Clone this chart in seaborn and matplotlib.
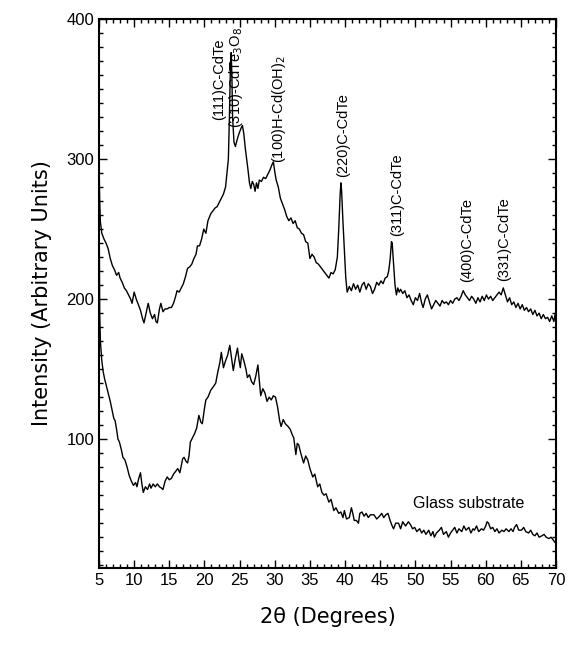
import numpy as np
import pandas as pd
import matplotlib
matplotlib.use("Agg")
import matplotlib.pyplot as plt
from matplotlib.ticker import MultipleLocator
import seaborn as sns

# ---------------- data ----------------
film_x = [5.0, 5.1, 5.2, 5.4, 5.7, 6.0, 6.3, 6.6, 6.9, 7.2, 7.5, 7.8, 8.0, 8.3, 8.6, 8.9, 9.2, 9.5, 9.7,
          10.0, 10.3, 10.6, 10.9, 11.2, 11.4, 11.7, 12.0, 12.3, 12.6, 12.9, 13.1, 13.3, 13.6, 13.8, 14.1, 14.4,
          14.7, 15.0, 15.3, 15.6, 15.9, 16.1, 16.4, 16.7, 17.0, 17.3, 17.6, 17.9, 18.2, 18.5, 18.8, 19.0, 19.3,
          19.6, 19.9, 20.2, 20.5, 20.9, 21.2, 21.5, 21.8, 22.1, 22.4, 22.7, 23.0, 23.2, 23.4, 23.55, 23.7, 23.8,
          23.9, 24.0, 24.2, 24.4, 24.6, 24.9, 25.2, 25.4, 25.6, 25.8, 26.0, 26.2, 26.4, 26.6, 26.8, 27.0, 27.2,
          27.4, 27.6, 27.8, 28.1, 28.4, 28.7, 29.0, 29.3, 29.6, 29.8, 30.0, 30.2, 30.5, 30.8, 31.1, 31.4, 31.7,
          32.0, 32.3, 32.6, 32.9, 33.2, 33.5, 33.8, 34.1, 34.4, 34.7, 35.0, 35.3, 35.6, 35.9, 36.2, 36.5, 36.8,
          37.1, 37.4, 37.7, 38.0, 38.3, 38.6, 38.9, 39.1, 39.3, 39.4, 39.5, 39.7, 39.9, 40.1, 40.3, 40.6, 40.9,
          41.2, 41.5, 41.8, 42.1, 42.4, 42.7, 43.0, 43.3, 43.6, 43.9, 44.2, 44.5, 44.8, 45.1, 45.4, 45.7, 46.0,
          46.2, 46.4, 46.6, 46.7, 46.9, 47.1, 47.3, 47.5, 47.7, 47.9, 48.2, 48.5, 48.8, 49.1, 49.4, 49.7, 50.0,
          50.3, 50.6, 50.9, 51.1, 51.4, 51.7, 52.0, 52.3, 52.6, 52.9, 53.2, 53.5, 53.8, 54.1, 54.4, 54.7, 55.0,
          55.3, 55.6, 55.9, 56.2, 56.5, 56.8, 57.1, 57.4, 57.7, 58.0, 58.3, 58.6, 58.9, 59.2, 59.5, 59.8, 60.1,
          60.4, 60.7, 61.0, 61.3, 61.6, 61.9, 62.2, 62.5, 62.8, 63.1, 63.4, 63.7, 64.0, 64.3, 64.6, 64.9, 65.2,
          65.5, 65.8, 66.1, 66.4, 66.7, 67.0, 67.3, 67.6, 67.9, 68.2, 68.5, 68.8, 69.1, 69.4, 69.7, 69.9, 70.0]
film_y = [300, 270, 255, 247, 243, 240, 236, 229, 224, 221, 217, 219, 215, 212, 208, 206, 203, 200, 197,
          205, 200, 196, 192, 186, 183, 190, 197, 190, 186, 189, 184, 183, 193, 197, 191, 193,
          193, 194, 194, 197, 202, 206, 205, 208, 211, 216, 222, 223, 225, 229, 232, 238, 238,
          243, 250, 247, 256, 261, 263, 265, 266, 269, 272, 275, 280, 290, 300, 330, 368, 376,
          360, 330, 312, 309, 313, 318, 322, 324, 318, 308, 300, 292, 283, 279, 284, 282, 277,
          283, 279, 285, 284, 287, 286, 289, 292, 296, 298, 291, 285, 280, 272, 268, 264, 259,
          256, 258, 254, 256, 251, 250, 247, 246, 241, 240, 229, 232, 230, 226, 225, 223, 221,
          219, 217, 215, 219, 218, 221, 230, 250, 275, 283, 278, 255, 235, 215, 205, 209, 206,
          211, 207, 210, 205, 210, 212, 207, 211, 209, 204, 207, 212, 210, 213, 211, 215, 216,
          220, 228, 241, 240, 225, 210, 203, 208, 205, 207, 204, 206, 201, 203, 199, 196, 201,
          199, 204, 197, 194, 200, 203, 198, 193, 196, 199, 197, 195, 199, 197, 198, 196, 199,
          197, 200, 201, 199, 202, 206, 203, 201, 199, 202, 200, 197, 201, 198, 202, 199, 203,
          200, 202, 199, 201, 203, 205, 203, 208, 203, 198, 201, 196, 198, 194, 197, 193, 196,
          192, 194, 191, 193, 189, 192, 188, 190, 186, 189, 186, 187, 184, 188, 184, 190, 185]

glass_x = [5.0, 5.05, 5.1, 5.2, 5.4, 5.6, 5.8, 6.1, 6.4, 6.6, 6.9, 7.1, 7.3, 7.5, 7.7, 7.9, 8.2, 8.4, 8.7,
           9.0, 9.3, 9.6, 9.9, 10.2, 10.4, 10.6, 10.9, 11.1, 11.3, 11.6, 11.9, 12.2, 12.4, 12.7, 13.0, 13.3,
           13.6, 13.9, 14.1, 14.4, 14.7, 15.0, 15.3, 15.6, 15.9, 16.2, 16.5, 16.9, 17.1, 17.4, 17.6, 17.8,
           18.0, 18.3, 18.6, 18.9, 19.2, 19.5, 19.7, 20.0, 20.2, 20.5, 20.9, 21.2, 21.6, 21.9, 22.2, 22.4,
           22.7, 23.0, 23.3, 23.6, 23.8, 24.1, 24.4, 24.7, 24.9, 25.1, 25.3, 25.6, 25.9, 26.1, 26.4, 26.7,
           27.0, 27.3, 27.6, 27.8, 28.0, 28.3, 28.6, 28.9, 29.2, 29.5, 29.8, 30.1, 30.4, 30.7, 30.9, 31.2,
           31.5, 31.9, 32.2, 32.5, 32.7, 33.0, 33.2, 33.4, 33.7, 34.1, 34.4, 34.7, 35.0, 35.4, 35.7, 36.1,
           36.4, 36.7, 37.0, 37.3, 37.7, 38.0, 38.4, 38.7, 39.1, 39.4, 39.7, 39.9, 40.2, 40.6, 40.9, 41.1,
           41.3, 41.6, 41.9, 42.1, 42.4, 42.7, 43.0, 43.3, 43.6, 44.1, 44.5, 44.9, 45.2, 45.5, 45.8, 46.1,
           46.4, 46.7, 46.9, 47.2, 47.6, 47.9, 48.2, 48.6, 49.0, 49.3, 49.6, 49.9, 50.2, 50.6, 50.9, 51.2,
           51.5, 51.9, 52.2, 52.5, 52.7, 53.0, 53.4, 53.7, 54.0, 54.4, 54.7, 55.0, 55.3, 55.6, 55.9, 56.2,
           56.6, 56.9, 57.2, 57.6, 57.9, 58.2, 58.4, 58.7, 59.0, 59.4, 59.7, 60.0, 60.2, 60.4, 60.7, 61.0,
           61.3, 61.6, 61.9, 62.3, 62.6, 62.9, 63.3, 63.6, 63.9, 64.1, 64.4, 64.7, 65.1, 65.4, 65.7, 66.1,
           66.4, 66.7, 67.0, 67.3, 67.6, 68.0, 68.3, 68.6, 69.0, 69.3, 69.6, 69.9, 70.0]
glass_y = [280, 230, 190, 170, 156, 148, 143, 137, 131, 127, 120, 115, 113, 107, 100, 98, 92, 87, 85,
           80, 74, 70, 67, 69, 66, 71, 76, 68, 62, 66, 64, 68, 65, 68, 66, 68,
           66, 65, 64, 70, 73, 71, 72, 75, 77, 79, 76, 86, 87, 84, 83, 88,
           98, 101, 104, 108, 117, 112, 111, 122, 128, 130, 135, 137, 140, 148, 155, 162,
           151, 156, 160, 167, 160, 149, 158, 165, 157, 151, 161, 156, 150, 144, 146, 141,
           139, 145, 153, 142, 131, 136, 133, 127, 130, 128, 131, 130, 123, 113, 109, 114,
           111, 109, 107, 103, 101, 89, 97, 96, 90, 83, 88, 85, 79, 73, 75, 66,
           68, 62, 60, 61, 55, 57, 49, 51, 47, 48, 44, 49, 43, 44, 51, 47,
           42, 42, 40, 47, 48, 45, 47, 44, 46, 46, 43, 45, 47, 44, 46, 47,
           42, 38, 36, 40, 40, 36, 41, 38, 41, 39, 36, 37, 34, 36, 33, 35,
           32, 35, 31, 34, 30, 33, 35, 37, 32, 34, 30, 33, 35, 37, 33, 36,
           34, 38, 35, 37, 33, 36, 35, 38, 34, 36, 35, 38, 41, 40, 36, 37,
           34, 36, 33, 35, 34, 36, 34, 36, 34, 37, 39, 35, 35, 37, 34, 33,
           35, 32, 31, 33, 30, 31, 32, 30, 29, 30, 28, 26, 26]

peak_labels = ["(111)C-CdTe", "(310)-CdTe$_3$O$_8$", "(100)H-Cd(OH)$_2$", "(220)C-CdTe",
               "(311)C-CdTe", "(400)C-CdTe", "(331)C-CdTe"]
peak_label_x = [22.1, 24.5, 30.6, 39.7, 47.4, 57.3, 62.6]
peak_label_y = [328, 322, 297, 287, 245, 212, 213]

glass_label = "Glass substrate"
xticks = [5, 10, 15, 20, 25, 30, 35, 40, 45, 50, 55, 60, 65, 70]
yticks = [100, 200, 300, 400]

# ---------------- figure ----------------
sns.set_theme(style="ticks")
plt.rcParams["font.family"] = ["Liberation Sans", "DejaVu Sans"]

fig = plt.figure(figsize=(5.67, 6.51), dpi=100)
ax = fig.add_axes([0.1746, 0.1275, 0.806, 0.8433])

film = pd.DataFrame({"x": film_x, "y": film_y})
glass = pd.DataFrame({"x": glass_x, "y": glass_y})
sns.lineplot(data=film, x="x", y="y", ax=ax, color="black", lw=1.0, sort=False, estimator=None)
sns.lineplot(data=glass, x="x", y="y", ax=ax, color="black", lw=1.0, sort=False, estimator=None)

for lab, lx, ly in zip(peak_labels, peak_label_x, peak_label_y):
    ax.text(lx, ly, lab, rotation=90, ha="center", va="bottom", fontsize=10.5, color="black")
ax.text(57.6, 54, glass_label, ha="center", va="center", fontsize=11.5, color="black")

ax.set_xlim(5, 70)
ax.set_ylim(8, 400)
ax.set_xticks(xticks)
ax.set_yticks(yticks)
ax.xaxis.set_minor_locator(MultipleLocator(1))
ax.yaxis.set_minor_locator(MultipleLocator(10))
ax.tick_params(which="both", direction="in", top=True, right=True, colors="black",
               labelsize=12, width=1.0)
ax.tick_params(which="major", length=6)
ax.tick_params(which="minor", length=3)
for s in ax.spines.values():
    s.set_linewidth(1.5)
    s.set_color("black")

ax.set_xlabel("2θ (Degrees)", fontsize=15, family=["DejaVu Sans"], labelpad=14, color="black")
ax.set_ylabel("Intensity (Arbitrary Units)", fontsize=15, family=["DejaVu Sans"], labelpad=10, color="black")

fig.savefig("out.png", dpi=100)
